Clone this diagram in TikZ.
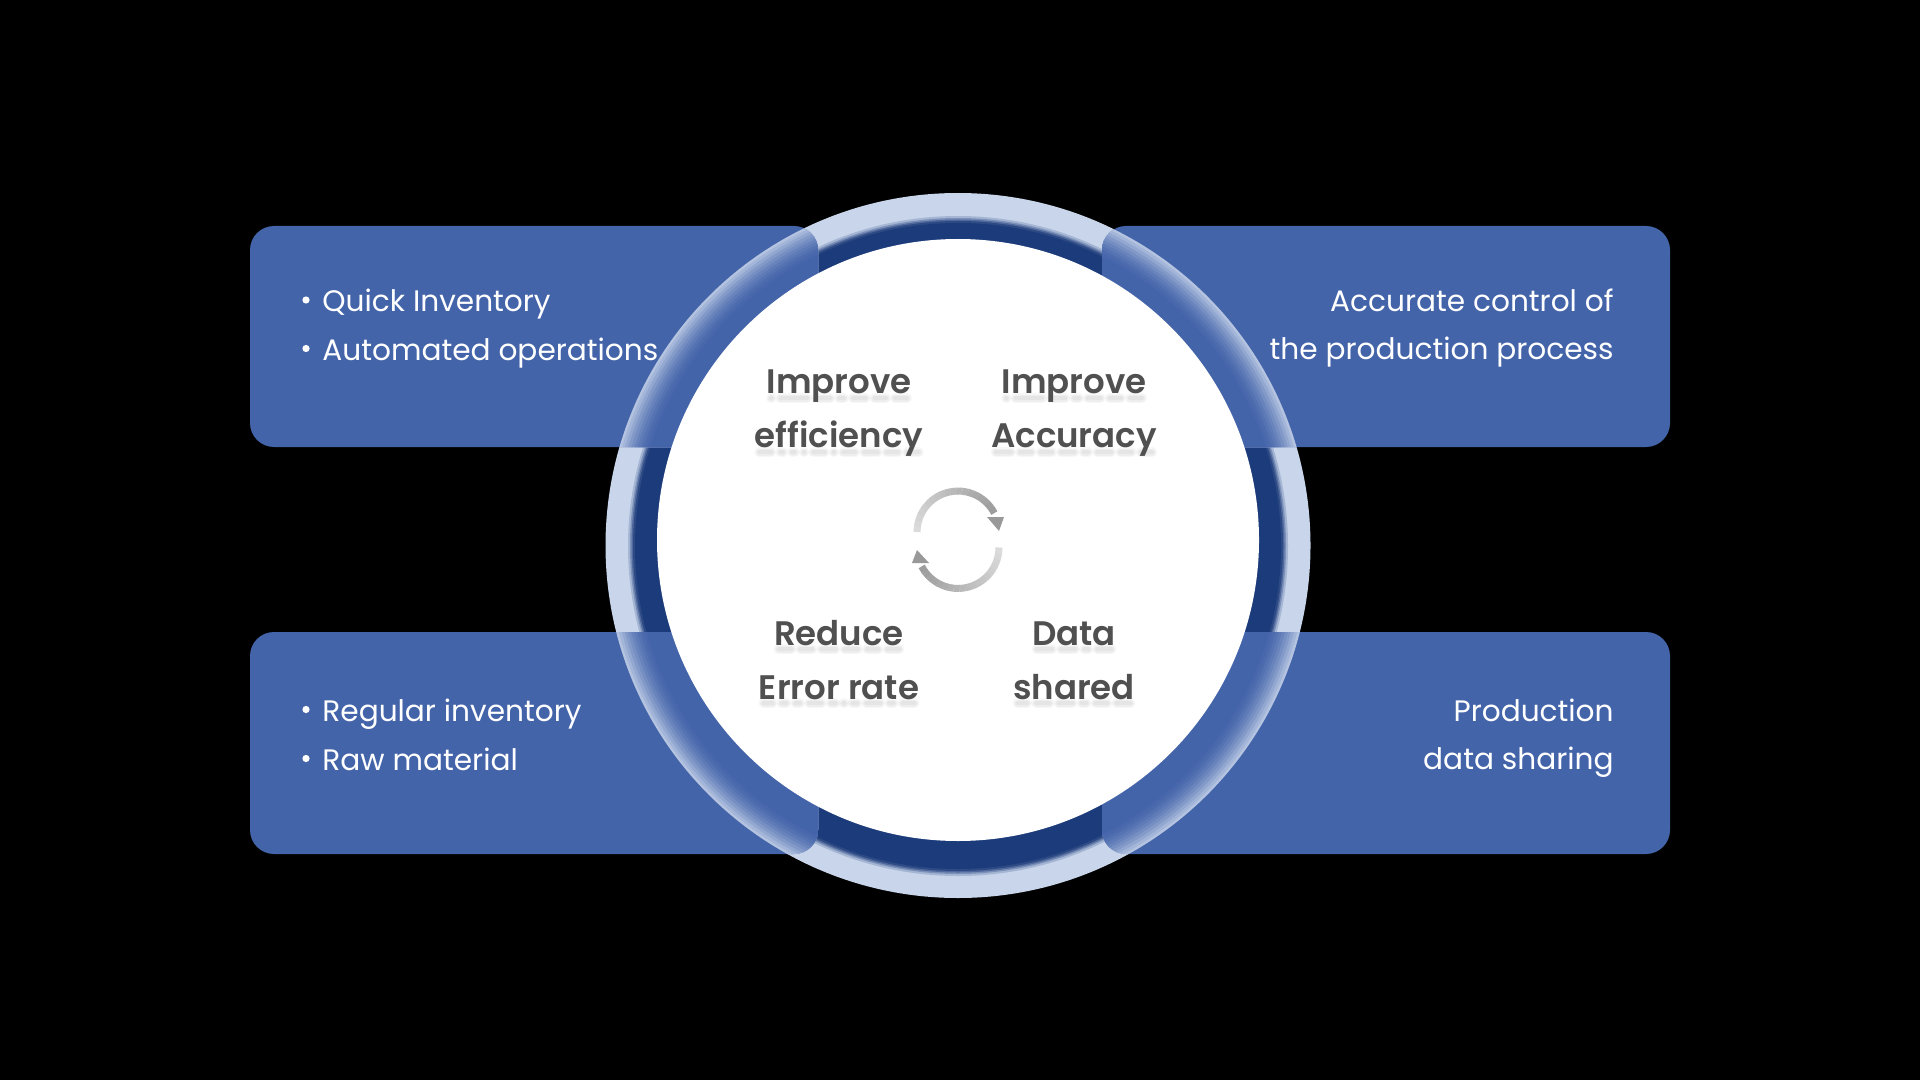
\documentclass[tikz,border=0pt]{standalone}
\usepackage{fontspec}
\setmainfont{Poppins}
\newfontface\headface{Poppins SemiBold}
\definecolor{bandblue}{HTML}{4464AA}
\definecolor{ringlight}{HTML}{C8D5EA}
\definecolor{ringdark}{HTML}{1C3B7A}
\definecolor{headgray}{HTML}{505050}
\newcommand{\headfont}{\headface\fontsize{17}{27}\selectfont}
\newsavebox{\shbox}
\tikzset{
  x=0.5pt,y=-0.5pt,
  panel/.style={fill=bandblue,rounded corners=12pt},
  sidetext/.style={text=white,font=\fontsize{14.8}{24.25}\selectfont,inner sep=0pt},
  headtext/.style={text=headgray,font=\headfont,align=center,inner sep=0pt},
  softbar/.style={draw=gray,line cap=round},
}
\newcommand{\panelpath}[1]{%
  \ifcase#1\relax
    (250,226) rectangle (818,447)\or
    (1102,226) rectangle (1670,447)\or
    (250,632) rectangle (818,854)\or
    (1102,632) rectangle (1670,854)\fi}
\newcommand{\measureword}[1]{%
  \pgfinterruptpicture\global\setbox\shbox\hbox{\headfont #1}\endpgfinterruptpicture}
% soft per-letter shadow under a word: centre x, baseline y, word, letters
\newcommand{\wordshadow}[4]{%
  \measureword{#3}%
  \pgfmathsetmacro{\shcur}{#1-\the\wd\shbox}%
  \global\let\shcurg\shcur
  \foreach \L in {#4}{%
    \measureword{\L}%
    \pgfmathsetmacro{\shw}{2*\the\wd\shbox}%
    \pgfmathsetmacro{\sha}{\shcurg+4.5}%
    \pgfmathsetmacro{\shb}{\shcurg+\shw-4.5}%
    \draw[softbar,line width=5pt,opacity=.06] (\sha,#2+5) -- (\shb,#2+5);
    \draw[softbar,line width=3.5pt,opacity=.07] (\sha,#2+5) -- (\shb,#2+5);
    \draw[softbar,line width=2pt,opacity=.08] (\sha,#2+5) -- (\shb,#2+5);
    \pgfmathsetmacro{\shn}{\shcurg+\shw}%
    \global\let\shcurg\shn
  }}
\begin{document}
\begin{tikzpicture}
\useasboundingbox (0,0) rectangle (1920,1080);
\fill[black] (0,0) rectangle (1920,1080);
% base ring
\fill[ringlight] (958,545.5) circle[radius=352.5];
\foreach \r/\m in {330/20,328/45,326.5/70,325/90,323/100}{
  \fill[ringdark!\m!ringlight] (958,546) circle[radius=\r];}
\fill[ringdark] (958,543) circle[radius=312];
% four panels, each with a glow towards the outer ring edge
\foreach \k in {0,1,2,3}{
  \fill[panel] \panelpath{\k};
  \begin{scope}
    \clip[rounded corners=12pt] \panelpath{\k};
    \foreach \r/\m in {352.5/85,350/72,347/60,344/48,341/38,338/28,335/20,332/13,329/7,326/3,323/0}{
      \fill[ringlight!\m!bandblue] (958,545.5) circle[radius=\r];}
  \end{scope}}
% white disc
\fill[white] (958,540) circle[radius=301];
% texts in panels
\node[sidetext,anchor=base west] (tl1) at (322,311.5) {Quick Inventory};
\node[sidetext,anchor=base west] (tl2) at (322,360) {Automated operations};
\fill[white] (306,300) circle[radius=3.6];
\fill[white] (306,348.5) circle[radius=3.6];
\node[sidetext,anchor=east,align=right] (tr) at (1614,328) {Accurate control of\\the production process};
\node[sidetext,anchor=base west] (bl1) at (322,721) {Regular inventory};
\node[sidetext,anchor=base west] (bl2) at (322,770) {Raw material};
\fill[white] (306,709.5) circle[radius=3.6];
\fill[white] (306,758.5) circle[radius=3.6];
\node[sidetext,anchor=east,align=right] (br) at (1614,738) {Production\\data sharing};
% heads
\wordshadow{839}{393}{Improve}{I,m,p,r,o,v,e}
\wordshadow{839}{447}{efficiency}{e,f,f,i,c,i,e,n,c,y}
\wordshadow{1074}{393}{Improve}{I,m,p,r,o,v,e}
\wordshadow{1074}{447}{Accuracy}{A,c,c,u,r,a,c,y}
\wordshadow{839}{644}{Reduce}{R,e,d,u,c,e}
\wordshadow{839}{698}{Error rate}{E,r,r,o,r,{\ },r,a,t,e}
\wordshadow{1074}{644}{Data}{D,a,t,a}
\wordshadow{1074}{698}{shared}{s,h,a,r,e,d}
\node[headtext] (h1) at (839,413) {Improve\\efficiency};
\node[headtext] (h2) at (1074,413) {Improve\\Accuracy};
\node[headtext] (h3) at (839,660.5) {Reduce\\Error rate};
\node[headtext] (h4) at (1074,660.5) {Data\\shared};
% cycle arrows
\foreach \a [evaluate=\a as \m using {14+(\a+180)*0.17}] in {-180,-172,...,-30}{
  \draw[line width=3.5pt,black!\m] ({958+41*cos(\a)},{532+41*sin(\a)}) -- ({958+41*cos(\a+8.5)},{532+41*sin(\a+8.5)});}
\fill[black!40] (987,517) -- (1004,517) -- (999,531) -- cycle;
\foreach \a [evaluate=\a as \m using {14+\a*0.17}] in {0,8,...,150}{
  \draw[line width=3.5pt,black!\m] ({958+41*cos(\a)},{547.5+41*sin(\a)}) -- ({958+41*cos(\a+8.5)},{547.5+41*sin(\a+8.5)});}
\fill[black!40] (929,563) -- (912,563) -- (917,550) -- cycle;
\end{tikzpicture}
\end{document}
